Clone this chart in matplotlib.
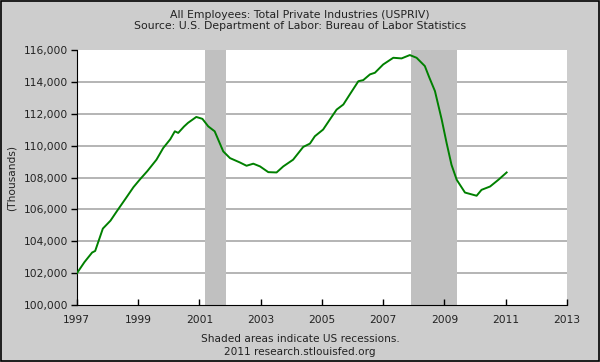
import matplotlib
matplotlib.use('Agg')
import matplotlib.pyplot as plt
from matplotlib.patches import Rectangle

# USPRIV, thousands
years = [1997.0, 1997.25, 1997.5, 1997.6, 1997.85, 1998.1, 1998.3, 1998.6, 1998.85,
         1999.05, 1999.3, 1999.6, 1999.82, 2000.05, 2000.2, 2000.31, 2000.5, 2000.63,
         2000.9, 2001.1, 2001.29, 2001.5, 2001.78, 2002.0, 2002.32, 2002.54, 2002.76,
         2002.98, 2003.25, 2003.52, 2003.74, 2004.06, 2004.39, 2004.61, 2004.77, 2005.04,
         2005.26, 2005.48, 2005.7, 2005.91, 2006.19, 2006.35, 2006.57, 2006.73, 2007.0,
         2007.33, 2007.6, 2007.87, 2008.09, 2008.36, 2008.5, 2008.69, 2008.91, 2009.07,
         2009.23, 2009.4, 2009.67, 2010.05, 2010.21, 2010.49, 2010.76, 2011.03]
values = [101990, 102700, 103300, 103400, 104800, 105300, 105870, 106700, 107400,
          107860, 108400, 109120, 109850, 110400, 110900, 110800, 111200, 111430,
          111800, 111680, 111210, 110900, 109640, 109220, 108950, 108740, 108870,
          108700, 108340, 108320, 108700, 109120, 109920, 110130, 110590, 111010,
          111640, 112260, 112580, 113210, 114040, 114110, 114470, 114570, 115090,
          115510, 115470, 115680, 115510, 114990, 114300, 113420, 111640, 110170,
          108800, 107860, 107060, 106860, 107230, 107440, 107860, 108320]

recessions = [(2001.17, 2001.88), (2007.92, 2009.42)]
xticks = [1997, 1999, 2001, 2003, 2005, 2007, 2009, 2011, 2013]
yticks = [100000, 102000, 104000, 106000, 108000, 110000, 112000, 114000, 116000]

bg = '#cdcdcd'
txt = '#222222'

fig = plt.figure(figsize=(6, 3.62), dpi=100, facecolor=bg)
ax = fig.add_axes([0.128, 0.157, 0.817, 0.705])
ax.set_facecolor('white')

for a, b in recessions:
    ax.axvspan(a, b, color='#c0c0c0', lw=0, zorder=1)

for y in yticks[1:-1]:
    ax.axhline(y, color='#a8a8a8', lw=1.2, zorder=0.5)

ax.plot(years, values, color='#008000', lw=1.4, zorder=3)

ax.set_xlim(1997, 2013)
ax.set_ylim(100000, 116000)
ax.set_xticks(xticks)
ax.set_yticks(yticks)
ax.set_yticklabels([f'{v:,}' for v in yticks])
ax.tick_params(axis='x', direction='in', length=4, width=1, labelsize=7.7,
               labelcolor=txt, pad=7)
ax.tick_params(axis='y', direction='out', length=4, width=1, labelsize=7.7,
               labelcolor=txt, pad=2)
for s in ['top', 'right']:
    ax.spines[s].set_visible(False)
ax.spines['left'].set_color('black')
ax.spines['bottom'].set_color('black')

ax.set_ylabel('(Thousands)', fontsize=7.7, color=txt, labelpad=5)

fig.text(0.5, 0.958, 'All Employees: Total Private Industries (USPRIV)',
         ha='center', va='center', fontsize=7.8, color=txt)
fig.text(0.5, 0.927, 'Source: U.S. Department of Labor: Bureau of Labor Statistics',
         ha='center', va='center', fontsize=7.8, color=txt)
fig.text(0.5, 0.064, 'Shaded areas indicate US recessions.',
         ha='center', va='center', fontsize=7.6, color=txt)
fig.text(0.5, 0.028, '2011 research.stlouisfed.org',
         ha='center', va='center', fontsize=7.6, color=txt)

fig.patches.append(Rectangle((0.002, 0.003), 0.996, 0.994, transform=fig.transFigure,
                             fill=False, edgecolor='black', lw=1.2))

fig.savefig('out.png', dpi=100, facecolor=bg)
